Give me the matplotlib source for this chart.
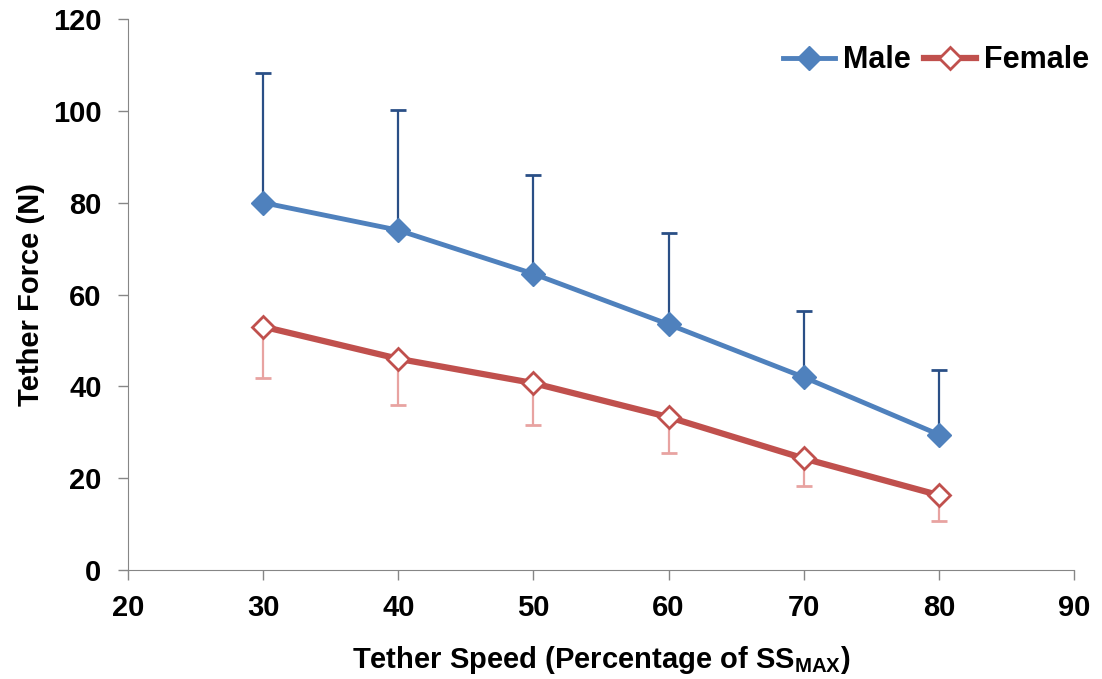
import numpy as np
import matplotlib
matplotlib.use("Agg")
import matplotlib.pyplot as plt

plt.rcParams['font.family'] = ['Liberation Sans', 'DejaVu Sans']
plt.rcParams['font.weight'] = 'bold'
plt.rcParams['mathtext.fontset'] = 'custom'
plt.rcParams['mathtext.bf'] = 'Liberation Sans:bold'

speed = [30, 40, 50, 60, 70, 80]
male = [80.0, 74.0, 64.5, 53.5, 42.0, 29.5]
male_upper = [108.3, 100.2, 86.0, 73.5, 56.3, 43.5]
female = [53.0, 46.0, 40.7, 33.3, 24.3, 16.3]
female_lower = [41.8, 36.0, 31.5, 25.4, 18.2, 10.7]

fig = plt.figure(figsize=(11.02, 6.79), dpi=100)
ax = fig.add_axes([128 / 1102, 109 / 679, 946 / 1102, 551 / 679])

male_err = [np.zeros(len(male)), np.array(male_upper) - np.array(male)]
female_err = [np.array(female) - np.array(female_lower), np.zeros(len(female))]

# error bars first so the lines sit on top
ax.errorbar(speed, male, yerr=male_err, fmt='none', ecolor='#2A4F86',
            elinewidth=1.6, capsize=6, capthick=2, zorder=2)
ax.errorbar(speed, female, yerr=female_err, fmt='none', ecolor='#E8A3A1',
            elinewidth=1.6, capsize=6, capthick=2, zorder=2)

ax.plot(speed, male, color='#4F81BD', lw=3.5, marker='D', markersize=12,
        markerfacecolor='#4F81BD', markeredgecolor='#4F81BD', label='Male', zorder=3)
ax.plot(speed, female, color='#C0504D', lw=4.5, marker='D', markersize=11,
        markerfacecolor='white', markeredgecolor='#C0504D', markeredgewidth=2,
        label='Female', zorder=3)

ax.set_xlim(20, 90)
ax.set_ylim(0, 120)
ax.set_xticks(range(20, 91, 10))
ax.set_yticks(range(0, 121, 20))
ax.tick_params(labelsize=21, direction='out', length=7, width=1, color='#868686')
ax.tick_params(axis='x', pad=10)
ax.tick_params(axis='y', pad=12)
for lab in ax.get_xticklabels() + ax.get_yticklabels():
    lab.set_fontweight('bold')
for s in ['top', 'right']:
    ax.spines[s].set_visible(False)
for s in ['left', 'bottom']:
    ax.spines[s].set_color('#868686')

ax.set_xlabel('Tether Speed (Percentage of SS$_{\\mathbf{MAX}}$)', fontsize=21,
              fontweight='bold', labelpad=16)
ax.set_ylabel('Tether Force (N)', fontsize=21, fontweight='bold', labelpad=6)

ax.legend(loc='center right', bbox_to_anchor=(1.045, 0.925), ncol=2, frameon=False,
          handlelength=1.7, handletextpad=0.25, columnspacing=0.45,
          prop={'weight': 'bold', 'size': 22})

fig.savefig('out.png', dpi=100)
